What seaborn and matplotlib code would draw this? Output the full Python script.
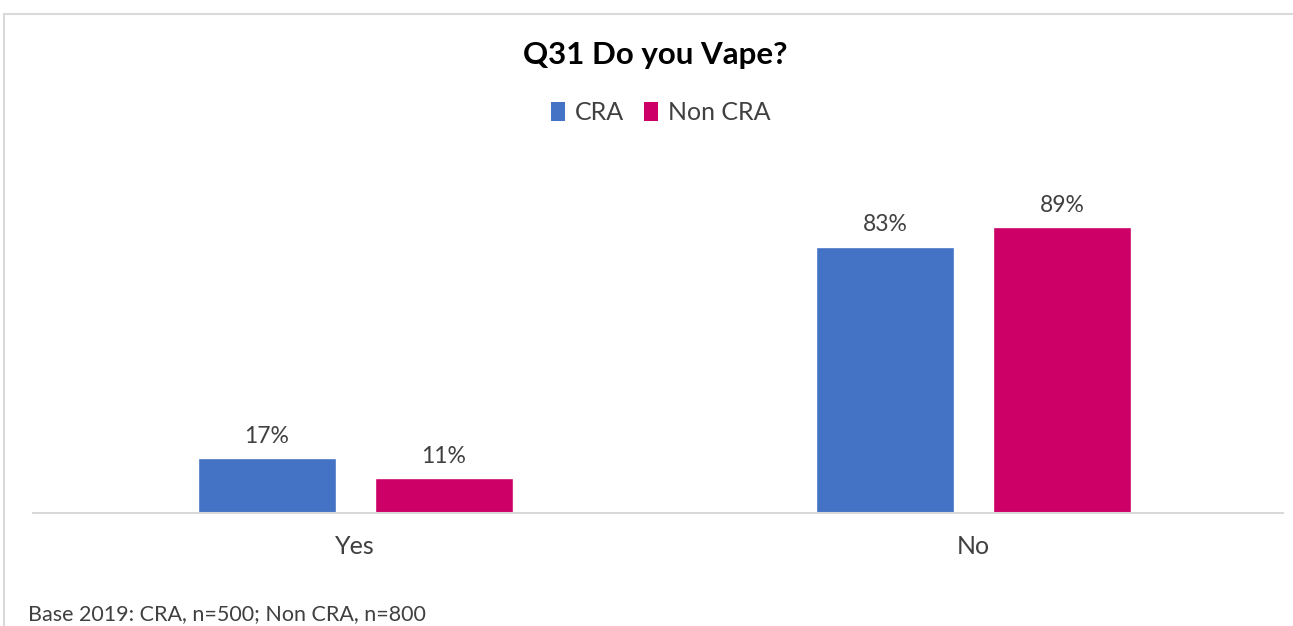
import matplotlib
matplotlib.use("Agg")
import matplotlib.pyplot as plt
import seaborn as sns
import pandas as pd
from matplotlib.patches import Rectangle, Patch

categories = ["Yes", "No"]
series_names = ["CRA", "Non CRA"]
cra_values = [17, 83]
non_cra_values = [11, 89]
colors = ["#4472C4", "#CC0066"]

df = pd.DataFrame({
    "answer": categories * 2,
    "group": [series_names[0]] * 2 + [series_names[1]] * 2,
    "value": cra_values + non_cra_values,
})

sns.set_theme(style="white")
plt.rcParams['font.family'] = ['Lato', 'DejaVu Sans']

fig = plt.figure(figsize=(12.93, 6.26), dpi=100)
ax = fig.add_axes([33/1293, (626-513)/626, 1250/1293, 321/626])

sns.barplot(data=df, x="answer", y="value", hue="group", order=categories,
            hue_order=series_names, palette=colors, width=0.572, gap=0.22,
            ax=ax, legend=False, saturation=1)

for cont in ax.containers:
    ax.bar_label(cont, labels=[f"{v:.0f}%" for v in cont.datavalues],
                 padding=8, fontsize=16.5, color="#404040")

ax.set_xlim(-0.521, 1.5)
ax.set_ylim(0, 100)
ax.set_xlabel("")
ax.set_ylabel("")
ax.set_yticks([])
for s in ["top", "right", "left"]:
    ax.spines[s].set_visible(False)
ax.spines["bottom"].set_color("#d9d9d9")
ax.spines["bottom"].set_linewidth(1.5)
ax.tick_params(axis="x", length=0, pad=16, labelsize=18, labelcolor="#404040")

fig.text(655/1293, 1-55/626, "Q31 Do you Vape?", ha="center", va="center",
         fontsize=22.5, fontweight="bold", color="black")

handles = [Patch(facecolor=c, edgecolor="none") for c in colors]
fig.legend(handles, series_names, loc="center", bbox_to_anchor=(661/1293, 1-113/626),
           ncol=2, frameon=False, fontsize=18, handlelength=0.55, handleheight=0.8,
           handletextpad=0.4, columnspacing=0.8, labelcolor="#404040")

fig.text(28/1293, 1-614/626, "Base 2019: CRA, n=500; Non CRA, n=800", ha="left",
         va="center", fontsize=15.5, color="#404040")

fig.patches.append(Rectangle((4/1293, -0.1), 1.2, 1-14/626+0.1, transform=fig.transFigure,
                             fill=False, edgecolor="#d9d9d9", linewidth=1.5))

fig.savefig("out.png", dpi=100)
